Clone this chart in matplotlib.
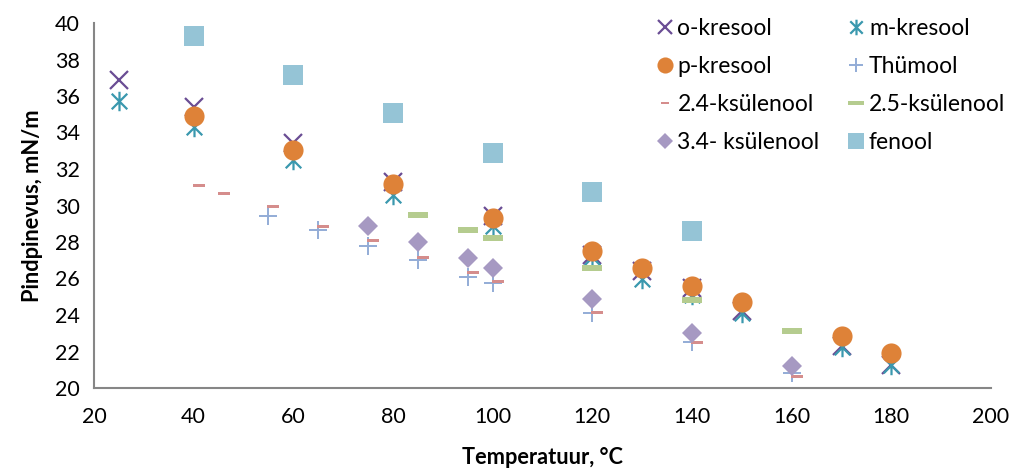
import matplotlib
matplotlib.use("Agg")
import matplotlib.pyplot as plt
from matplotlib.path import Path

plt.rcParams['font.family'] = ['Lato', 'DejaVu Sans']

# Surface tension (mN/m) versus temperature (°C)
o_kresool_t = [25, 40, 60, 80, 100, 120, 130, 140, 150, 170, 180]
o_kresool_y = [36.9, 35.4, 33.4, 31.3, 29.4, 27.3, 26.4, 25.5, 24.2, 22.3, 21.25]

m_kresool_t = [25, 40, 60, 80, 100, 120, 130, 140, 150, 170, 180]
m_kresool_y = [35.7, 34.3, 32.5, 30.6, 28.9, 27.2, 26.0, 25.1, 24.1, 22.25, 21.25]

p_kresool_t = [40, 60, 80, 100, 120, 130, 140, 150, 170, 180]
p_kresool_y = [34.9, 33.04, 31.2, 29.3, 27.5, 26.6, 25.6, 24.7, 22.85, 21.9]

tymool_t = [55, 65, 75, 85, 95, 100, 120, 140, 160]
tymool_y = [29.4, 28.65, 27.8, 27.0, 26.1, 25.75, 24.1, 22.5, 20.8]

ks24_t = [41, 46, 56, 66, 76, 86, 96, 101, 121, 141, 161]
ks24_y = [31.1, 30.7, 30.0, 28.9, 28.1, 27.2, 26.35, 25.85, 24.15, 22.5, 20.65]

ks25_t = [85, 95, 100, 120, 140, 160]
ks25_y = [29.5, 28.65, 28.2, 26.6, 24.8, 23.1]

ks34_t = [75, 85, 95, 100, 120, 140, 160]
ks34_y = [28.9, 28.0, 27.1, 26.6, 24.9, 23.0, 21.2]

fenool_t = [40, 60, 80, 100, 120, 140]
fenool_y = [39.3, 37.15, 35.07, 32.9, 30.75, 28.6]

x_ticks = [20, 40, 60, 80, 100, 120, 140, 160, 180, 200]
y_ticks = [20, 22, 24, 26, 28, 30, 32, 34, 36, 38, 40]

# flat bar marker used by the two xylenol dash series
bar = Path([(-1, -0.27), (1, -0.27), (1, 0.27), (-1, 0.27), (-1, -0.27)],
           [Path.MOVETO, Path.LINETO, Path.LINETO, Path.LINETO, Path.CLOSEPOLY])

# asterisk: vertical stroke plus two diagonals
star = Path([(0, -1), (0, 1), (-0.8, -0.8), (0.8, 0.8), (-0.8, 0.8), (0.8, -0.8)],
            [Path.MOVETO, Path.LINETO, Path.MOVETO, Path.LINETO, Path.MOVETO, Path.LINETO])

fig = plt.figure(figsize=(10.11, 4.71), dpi=100)
ax = fig.add_axes([94 / 1011, 83 / 471, 897 / 1011, 365 / 471])

series = [
    (o_kresool_t, o_kresool_y, dict(marker='x', ms=13, mew=1.6, color='#6A4D94'), 'o-kresool'),
    (m_kresool_t, m_kresool_y, dict(marker=star, ms=14, mew=1.6, color='#3A98AE'), 'm-kresool'),
    (p_kresool_t, p_kresool_y, dict(marker='o', ms=14.5, mew=0, color='#DE8238'), 'p-kresool'),
    (tymool_t, tymool_y, dict(marker='+', ms=13, mew=1.4, color='#93ACD6'), 'Thümool'),
    (ks24_t, ks24_y, dict(marker=bar, ms=8, mew=0, color='#D58D8C'), '2.4-ksülenool'),
    (ks25_t, ks25_y, dict(marker=bar, ms=14.5, mew=0, color='#B5CC8F'), '2.5-ksülenool'),
    (ks34_t, ks34_y, dict(marker='D', ms=10, mew=0, color='#A699C2'), '3.4- ksülenool'),
    (fenool_t, fenool_y, dict(marker='s', ms=14.5, mew=0, color='#95C4D6'), 'fenool'),
]

handles = []
for t, y, style, name in series:
    h, = ax.plot(t, y, linestyle='none', label=name, **style)
    handles.append(h)

ax.set_xlim(20, 200)
ax.set_ylim(20, 40)
ax.set_xticks(x_ticks)
ax.set_yticks(y_ticks)
ax.tick_params(axis='both', length=0, labelsize=15.5, colors='black')
ax.tick_params(axis='x', pad=14)
ax.tick_params(axis='y', pad=10)

for side in ('top', 'right'):
    ax.spines[side].set_visible(False)
for side in ('left', 'bottom'):
    ax.spines[side].set_color('#868686')
    ax.spines[side].set_linewidth(1.5)

ax.set_xlabel('Temperatuur, °C', fontsize=15.7, fontweight='bold', labelpad=14)
ax.set_ylabel('Pindpinevus, mN/m', fontsize=15.7, fontweight='bold', labelpad=9)

# legend laid out row by row across two columns
order = [0, 2, 4, 6, 1, 3, 5, 7]
leg = ax.legend([handles[i] for i in order], [series[i][3] for i in order],
                ncol=2, frameon=False, fontsize=16.5, loc='upper left',
                bbox_to_anchor=(0.616, 1.04), handlelength=0.8, handletextpad=0.15,
                columnspacing=1.2, labelspacing=0.75, borderaxespad=0,
                markerscale=0.8)

fig.savefig('out.png', dpi=100)
